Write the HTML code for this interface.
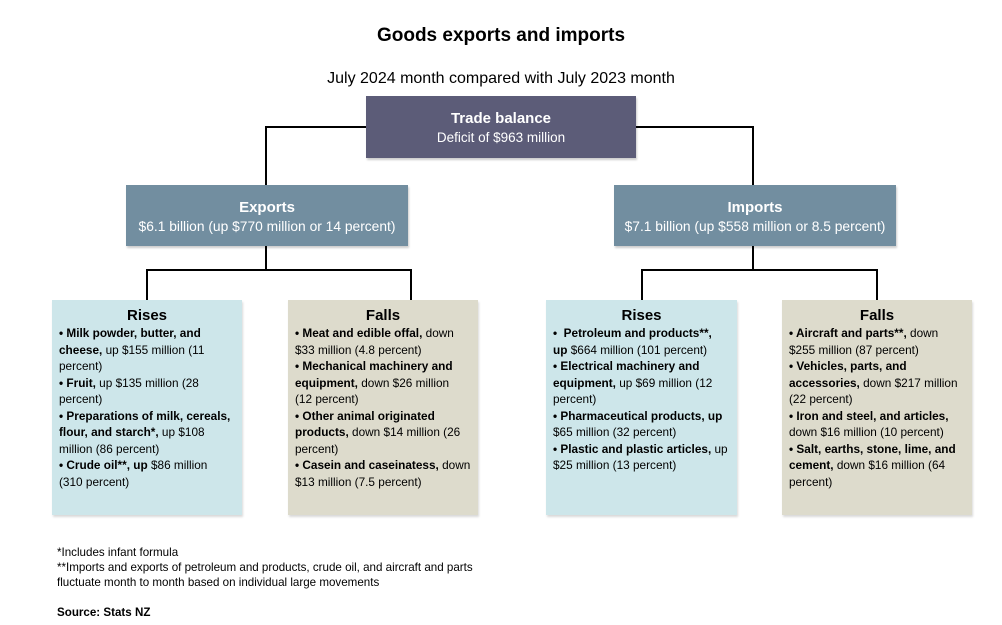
<!DOCTYPE html>
<html><head><meta charset="utf-8"><style>
*{margin:0;padding:0;box-sizing:border-box}
body{width:1002px;height:625px;background:#fff;position:relative;font-family:"Liberation Sans",sans-serif;color:#000;overflow:hidden}
.a{position:absolute}
.t{left:0;width:1002px;text-align:center}
.box{position:absolute;color:#fff;text-align:center;box-shadow:1px 2px 2px rgba(0,0,0,.2)}
.ln{position:absolute;background:#000}
.c{position:absolute;top:300px;height:215px;padding:7px 0 0 7px;font-size:11.8px;line-height:16.5px;white-space:nowrap;box-shadow:1px 2px 2px rgba(0,0,0,.15)}
.c h3{font-size:15px;font-weight:bold;text-align:center;margin:0 0 1px -7px;line-height:17px}
.b{background:#cde6ea}.f{background:#dddbcc}
.fn{font-size:11.6px;line-height:15px;left:57px}
</style></head><body>
<div class="a t" style="top:25px;font-size:19px;font-weight:bold">Goods exports and imports</div>
<div class="a t" style="top:70px;font-size:16px">July 2024 month compared with July 2023 month</div>

<div class="ln" style="left:265px;top:126px;width:101px;height:2px"></div>
<div class="ln" style="left:265px;top:126px;width:2px;height:59px"></div>
<div class="ln" style="left:636px;top:126px;width:118px;height:2px"></div>
<div class="ln" style="left:752px;top:126px;width:2px;height:59px"></div>

<div class="box" style="left:366px;top:96px;width:270px;height:62px;background:#5c5c78;padding-top:13px"><div style="font-size:15px;font-weight:bold;line-height:20px">Trade balance</div><div style="font-size:13.5px;line-height:18px">Deficit of $963 million</div></div>

<div class="box" style="left:126px;top:185px;width:282px;height:61px;background:#728ea0;padding-top:13px"><div style="font-size:15px;font-weight:bold;line-height:20px">Exports</div><div style="font-size:13.8px;line-height:18px">$6.1 billion (up $770 million or 14 percent)</div></div>
<div class="box" style="left:614px;top:185px;width:282px;height:61px;background:#728ea0;padding-top:13px"><div style="font-size:15px;font-weight:bold;line-height:20px">Imports</div><div style="font-size:13.8px;line-height:18px">$7.1 billion (up $558 million or 8.5 percent)</div></div>

<div class="ln" style="left:265px;top:246px;width:2px;height:24px"></div>
<div class="ln" style="left:146px;top:269px;width:266px;height:2px"></div>
<div class="ln" style="left:146px;top:269px;width:2px;height:31px"></div>
<div class="ln" style="left:410px;top:269px;width:2px;height:31px"></div>
<div class="ln" style="left:752px;top:246px;width:2px;height:24px"></div>
<div class="ln" style="left:641px;top:269px;width:237px;height:2px"></div>
<div class="ln" style="left:641px;top:269px;width:2px;height:31px"></div>
<div class="ln" style="left:876px;top:269px;width:2px;height:31px"></div>

<div class="c b" style="left:52px;width:190px"><h3>Rises</h3>
<b>• Milk powder, butter, and</b><br><b>cheese,</b> up $155 million (11<br>percent)<br><b>• Fruit,</b> up $135 million (28<br>percent)<br><b>• Preparations of milk, cereals,</b><br><b>flour, and starch*,</b> up $108<br>million (86 percent)<br><b>• Crude oil**, up</b> $86 million<br>(310 percent)</div>

<div class="c f" style="left:288px;width:190px"><h3>Falls</h3>
<b>• Meat and edible offal,</b> down<br>$33 million (4.8 percent)<br><b>• Mechanical machinery and</b><br><b>equipment,</b> down $26 million<br>(12 percent)<br><b>• Other animal originated</b><br><b>products,</b> down $14 million (26<br>percent)<br><b>• Casein and caseinatess,</b> down<br>$13 million (7.5 percent)</div>

<div class="c b" style="left:546px;width:191px"><h3>Rises</h3>
<b>•&nbsp; Petroleum and products**,</b><br><b>up</b> $664 million (101 percent)<br><b>• Electrical machinery and</b><br><b>equipment,</b> up $69 million (12<br>percent)<br><b>• Pharmaceutical products, up</b><br>$65 million (32 percent)<br><b>• Plastic and plastic articles,</b> up<br>$25 million (13 percent)</div>

<div class="c f" style="left:782px;width:190px"><h3>Falls</h3>
<b>• Aircraft and parts**,</b> down<br>$255 million (87 percent)<br><b>• Vehicles, parts, and</b><br><b>accessories,</b> down $217 million<br>(22 percent)<br><b>• Iron and steel, and articles,</b><br>down $16 million (10 percent)<br><b>• Salt, earths, stone, lime, and</b><br><b>cement,</b> down $16 million (64<br>percent)</div>

<div class="a fn" style="top:545px">*Includes infant formula<br>**Imports and exports of petroleum and products, crude oil, and aircraft and parts<br>fluctuate month to month based on individual large movements</div>
<div class="a fn" style="top:605px;font-weight:bold">Source: Stats NZ</div>
</body></html>
